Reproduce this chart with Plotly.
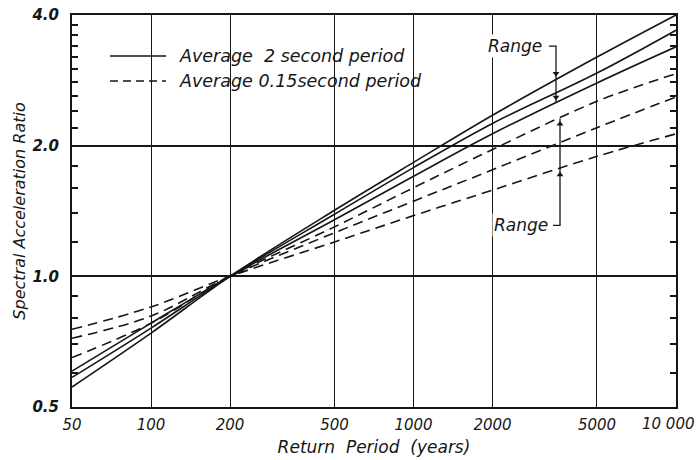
import numpy as np
import plotly.graph_objects as go

# Return periods (years) at which the curves are sampled
periods = [50, 100, 200, 500, 1000, 2000, 5000, 10000]

# Spectral acceleration ratio, normalised to 1.0 at the 200-year return period
sa_2s_upper = [0.556, 0.74, 1.0, 1.42, 1.83, 2.35, 3.20, 4.00]
sa_2s_avg = [0.585, 0.76, 1.0, 1.39, 1.78, 2.25, 2.94, 3.69]
sa_2s_lower = [0.605, 0.78, 1.0, 1.35, 1.70, 2.13, 2.79, 3.38]

sa_015s_upper = [0.65, 0.78, 1.0, 1.30, 1.60, 1.96, 2.53, 2.93]
sa_015s_avg = [0.72, 0.81, 1.0, 1.26, 1.49, 1.76, 2.20, 2.59]
sa_015s_lower = [0.755, 0.85, 1.0, 1.20, 1.38, 1.58, 1.89, 2.13]

x_ticks = [50, 100, 200, 500, 1000, 2000, 5000, 10000]
x_ticktext = ["50", "100", "200", "500", "1000", "2000", "5000", "10\u00a0000"]
y_ticks = [0.5, 1.0, 2.0, 4.0]
y_ticktext = ["0.5", "1.0", "2.0", "4.0"]
y_minor = [0.6, 0.7, 0.8, 0.9, 1.2, 1.4, 1.6, 1.8,
           2.2, 2.4, 2.6, 2.8, 3.0, 3.2, 3.4, 3.6, 3.8]

legend_labels = ["Average\u00a0\u00a02 second period", "Average 0.15second period"]

FONT = "DejaVu Sans"
INK = "#161616"
W, H = 699, 460
ML, MR, MT, MB = 72, 23, 15, 53
PW, PH = W - ML - MR, H - MT - MB


def loglog_at(xq, ys):
    """Value of a curve at period xq, interpolated in log-log space."""
    return float(10 ** np.interp(np.log10(xq), np.log10(periods), np.log10(ys)))


def px_to_paper(px, py):
    return (px - ML) / PW, (H - MB - py) / PH


fig = go.Figure()

solid = dict(color=INK, width=1.6)
dashed = dict(color=INK, width=1.6, dash="10px,6px")

for ys, style in ((sa_2s_upper, solid), (sa_2s_avg, solid), (sa_2s_lower, solid),
                  (sa_015s_upper, dashed), (sa_015s_avg, dashed), (sa_015s_lower, dashed)):
    fig.add_trace(go.Scatter(x=periods, y=ys, mode="lines", line=style,
                             line_shape="spline", showlegend=False, hoverinfo="skip"))

# "Range" brackets spanning the envelope of each family of curves
upper_label = (2440, 3.39)
lower_label = (2560, 1.31)
xu, xl = 3490, 3615
hook_u, hook_l = 3280, 3400

u_top = loglog_at(xu, sa_2s_upper)
u_bot = loglog_at(xu, sa_2s_lower)
fig.add_trace(go.Scatter(x=[hook_u, xu, xu, xu], y=[upper_label[1], upper_label[1], u_top, u_bot],
                         mode="lines", line=dict(color=INK, width=1.3),
                         showlegend=False, hoverinfo="skip"))
fig.add_trace(go.Scatter(x=[xu, xu], y=[u_top * 1.035, u_bot * 1.03], mode="markers",
                         marker=dict(symbol="triangle-down", size=6, color=INK),
                         showlegend=False, hoverinfo="skip"))

l_top = loglog_at(xl, sa_015s_upper)
l_bot = loglog_at(xl, sa_015s_lower)
fig.add_trace(go.Scatter(x=[hook_l, xl, xl, xl], y=[lower_label[1], lower_label[1], l_bot, l_top],
                         mode="lines", line=dict(color=INK, width=1.3),
                         showlegend=False, hoverinfo="skip"))
fig.add_trace(go.Scatter(x=[xl, xl], y=[l_top / 1.03, l_bot / 1.035], mode="markers",
                         marker=dict(symbol="triangle-up", size=6, color=INK),
                         showlegend=False, hoverinfo="skip"))

for (lx, ly) in (upper_label, lower_label):
    fig.add_annotation(x=np.log10(lx), y=np.log10(ly), xref="x", yref="y",
                       text="Range", showarrow=False, bgcolor="white",
                       font=dict(family=FONT, size=17, color=INK, style="italic"),
                       xanchor="center", yanchor="middle")

# Key: white panel over the grid, line samples and labels
x0, y0 = px_to_paper(100, 40)
x1, y1 = px_to_paper(428, 93)
fig.add_shape(type="rect", xref="paper", yref="paper", x0=x0, y0=y1, x1=x1, y1=y0,
              fillcolor="white", line=dict(width=0), layer="between")
for i, (label, dash) in enumerate(zip(legend_labels, ["solid", "8px,5px"])):
    row_y = 56 + 25 * i
    sx0, sy = px_to_paper(110, row_y)
    sx1, _ = px_to_paper(166, row_y)
    fig.add_shape(type="line", xref="paper", yref="paper", x0=sx0, x1=sx1, y0=sy, y1=sy,
                  line=dict(color=INK, width=1.6, dash=dash), layer="above")
    tx, _ = px_to_paper(177, row_y)
    fig.add_annotation(x=tx, y=sy, xref="paper", yref="paper", text=label,
                       showarrow=False, xanchor="left", yanchor="middle",
                       font=dict(family=FONT, size=17.5, color=INK, style="italic"))

# The last period label sits at the right edge, so it is right-aligned
# to stay inside the page; the axis itself leaves that slot blank.
tick_font = dict(family=FONT, size=15, color=INK, style="italic")
last_x, last_y = px_to_paper(697, 424)
fig.add_annotation(x=last_x, y=last_y, xref="paper", yref="paper", text=x_ticktext[-1],
                   showarrow=False, xanchor="right", yanchor="middle", font=tick_font)
axis_ticktext = x_ticktext[:-1] + [""]

fig.update_layout(
    width=W, height=H,
    margin=dict(l=ML, r=MR, t=MT, b=MB),
    paper_bgcolor="white", plot_bgcolor="white",
    font=dict(family=FONT, color=INK, style="italic"),
    showlegend=False,
    xaxis=dict(
        type="log", range=[np.log10(50), np.log10(10000)],
        tickvals=x_ticks, ticktext=axis_ticktext,
        tickfont=tick_font,
        ticks="", ticklabelstandoff=3,
        showgrid=True, gridcolor=INK, gridwidth=1.3,
        showline=True, linecolor=INK, linewidth=2, mirror=True,
        zeroline=False, automargin=False,
        title=dict(text="Return\u00a0 Period\u00a0 (years)", standoff=8,
                   font=dict(family=FONT, size=17, color=INK, style="italic")),
    ),
    yaxis=dict(
        type="log", range=[np.log10(0.5), np.log10(4.0)],
        tickvals=y_ticks, ticktext=y_ticktext, ticklabeloverflow="allow",
        tickfont=dict(family=FONT, size=15, color=INK, style="italic", weight="bold"),
        ticks="", ticklabelstandoff=8,
        showgrid=True, gridcolor=INK, gridwidth=1.8,
        showline=True, linecolor=INK, linewidth=2, mirror="ticks",
        zeroline=False, automargin=False,
        minor=dict(tickvals=y_minor, ticks="inside", ticklen=6,
                   tickcolor=INK, tickwidth=1.5, showgrid=False),
        title=dict(text="Spectral Acceleration Ratio", standoff=2,
                   font=dict(family=FONT, size=16, color=INK, style="italic")),
    ),
)

fig.write_html("out.html")
